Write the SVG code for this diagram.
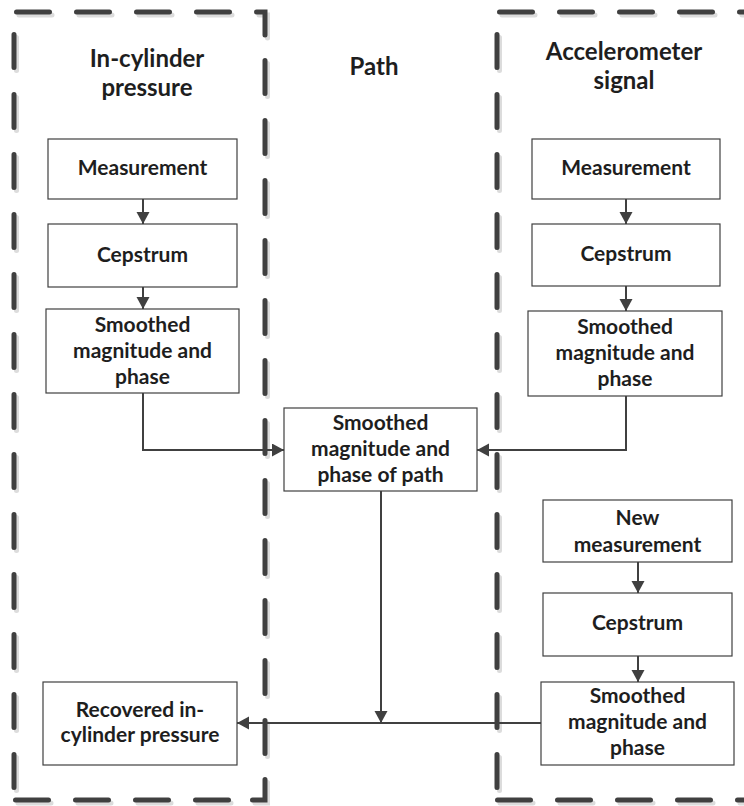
<svg xmlns="http://www.w3.org/2000/svg" xmlns:xlink="http://www.w3.org/1999/xlink" width="744" height="806" viewBox="0 0 744 806">
<style>
  .frame { fill: none; stroke-width: 5; stroke-linecap: round; stroke-dasharray: 33 27; }
  .box { fill: #ffffff; stroke: #404040; stroke-width: 1.2; }
  .lbl { font-family: Lato, "Open Sans", "Liberation Sans", sans-serif; font-weight: bold; font-size: 21px; fill: #1e1e1e; text-anchor: middle; }
  .title { font-family: Lato, "Open Sans", "Liberation Sans", sans-serif; font-weight: bold; font-size: 24px; fill: #1e1e1e; text-anchor: middle; }
  .conn { fill: none; stroke: #404040; stroke-width: 2; }
</style>
<defs>
  <marker id="arr" markerUnits="userSpaceOnUse" markerWidth="14" markerHeight="14" refX="12" refY="6.5" orient="auto">
    <path d="M0,0 L12,6.5 L0,13 z" fill="#404040"/>
  </marker>
  <g id="frameLines">
    <path class="frame" d="M16.5,12 H265 V35"/>
    <path class="frame" d="M265,60.5 V760"/>
    <path class="frame" d="M265,779.5 V800 H252.5" style="stroke-dasharray:none"/>
    <path class="frame" d="M15.5,800 H230"/>
    <path class="frame" d="M14,34.5 V790"/>
    <path class="frame" d="M499.5,12 H744"/>
    <path class="frame" d="M497,34.5 V790"/>
    <path class="frame" d="M497.5,800 H744"/>
  </g>
</defs>
<rect width="744" height="806" fill="#ffffff"/>
<g id="frames">
  <use xlink:href="#frameLines" transform="translate(2.5,3)" stroke="#dcdcdc"/>
  <use xlink:href="#frameLines" stroke="#404040"/>
</g>
<g id="titles">
  <text class="title" x="147" y="67">In-cylinder</text>
  <text class="title" x="147" y="96">pressure</text>
  <text class="title" x="374" y="75">Path</text>
  <text class="title" x="624" y="60">Accelerometer</text>
  <text class="title" x="624" y="89">signal</text>
</g>
<g id="connectors">
  <path class="conn" d="M143,199 V224" marker-end="url(#arr)"/>
  <path class="conn" d="M143,287 V309" marker-end="url(#arr)"/>
  <path class="conn" d="M626,199 V224" marker-end="url(#arr)"/>
  <path class="conn" d="M626,286 V311" marker-end="url(#arr)"/>
  <path class="conn" d="M638,562 V593" marker-end="url(#arr)"/>
  <path class="conn" d="M638,656 V682" marker-end="url(#arr)"/>
  <path class="conn" d="M143,393 V450 H284" marker-end="url(#arr)"/>
  <path class="conn" d="M626,396 V450 H477" marker-end="url(#arr)"/>
  <path class="conn" d="M381,491 V723" marker-end="url(#arr)"/>
  <path class="conn" d="M541,723 H237" marker-end="url(#arr)"/>
</g>
<g id="cyl-measurement">
  <rect class="box" x="48" y="139" width="189" height="60"/>
  <text class="lbl" x="142.5" y="175">Measurement</text>
</g>
<g id="cyl-cepstrum">
  <rect class="box" x="48" y="224" width="189" height="63"/>
  <text class="lbl" x="142.5" y="262">Cepstrum</text>
</g>
<g id="cyl-smoothed">
  <rect class="box" x="46" y="309" width="193" height="84"/>
  <text class="lbl" x="142.5" y="332">Smoothed</text>
  <text class="lbl" x="142.5" y="358">magnitude and</text>
  <text class="lbl" x="142.5" y="384">phase</text>
</g>
<g id="acc-measurement">
  <rect class="box" x="532" y="139" width="188" height="60"/>
  <text class="lbl" x="626" y="175">Measurement</text>
</g>
<g id="acc-cepstrum">
  <rect class="box" x="532" y="224" width="188" height="62"/>
  <text class="lbl" x="626" y="261">Cepstrum</text>
</g>
<g id="acc-smoothed">
  <rect class="box" x="528" y="311" width="194" height="85"/>
  <text class="lbl" x="625" y="334">Smoothed</text>
  <text class="lbl" x="625" y="360">magnitude and</text>
  <text class="lbl" x="625" y="386">phase</text>
</g>
<g id="path-smoothed">
  <rect class="box" x="284" y="408" width="193" height="83"/>
  <text class="lbl" x="380.5" y="430">Smoothed</text>
  <text class="lbl" x="380.5" y="456">magnitude and</text>
  <text class="lbl" x="380.5" y="482">phase of path</text>
</g>
<g id="new-measurement">
  <rect class="box" x="543" y="500" width="189" height="62"/>
  <text class="lbl" x="637.5" y="525">New</text>
  <text class="lbl" x="637.5" y="552">measurement</text>
</g>
<g id="new-cepstrum">
  <rect class="box" x="543" y="593" width="189" height="63"/>
  <text class="lbl" x="637.5" y="630">Cepstrum</text>
</g>
<g id="new-smoothed">
  <rect class="box" x="541" y="682" width="193" height="83"/>
  <text class="lbl" x="637.5" y="703">Smoothed</text>
  <text class="lbl" x="637.5" y="729">magnitude and</text>
  <text class="lbl" x="637.5" y="755">phase</text>
</g>
<g id="recovered">
  <rect class="box" x="43" y="682" width="194" height="83"/>
  <text class="lbl" x="140" y="717">Recovered in-</text>
  <text class="lbl" x="140" y="742">cylinder pressure</text>
</g>
</svg>
